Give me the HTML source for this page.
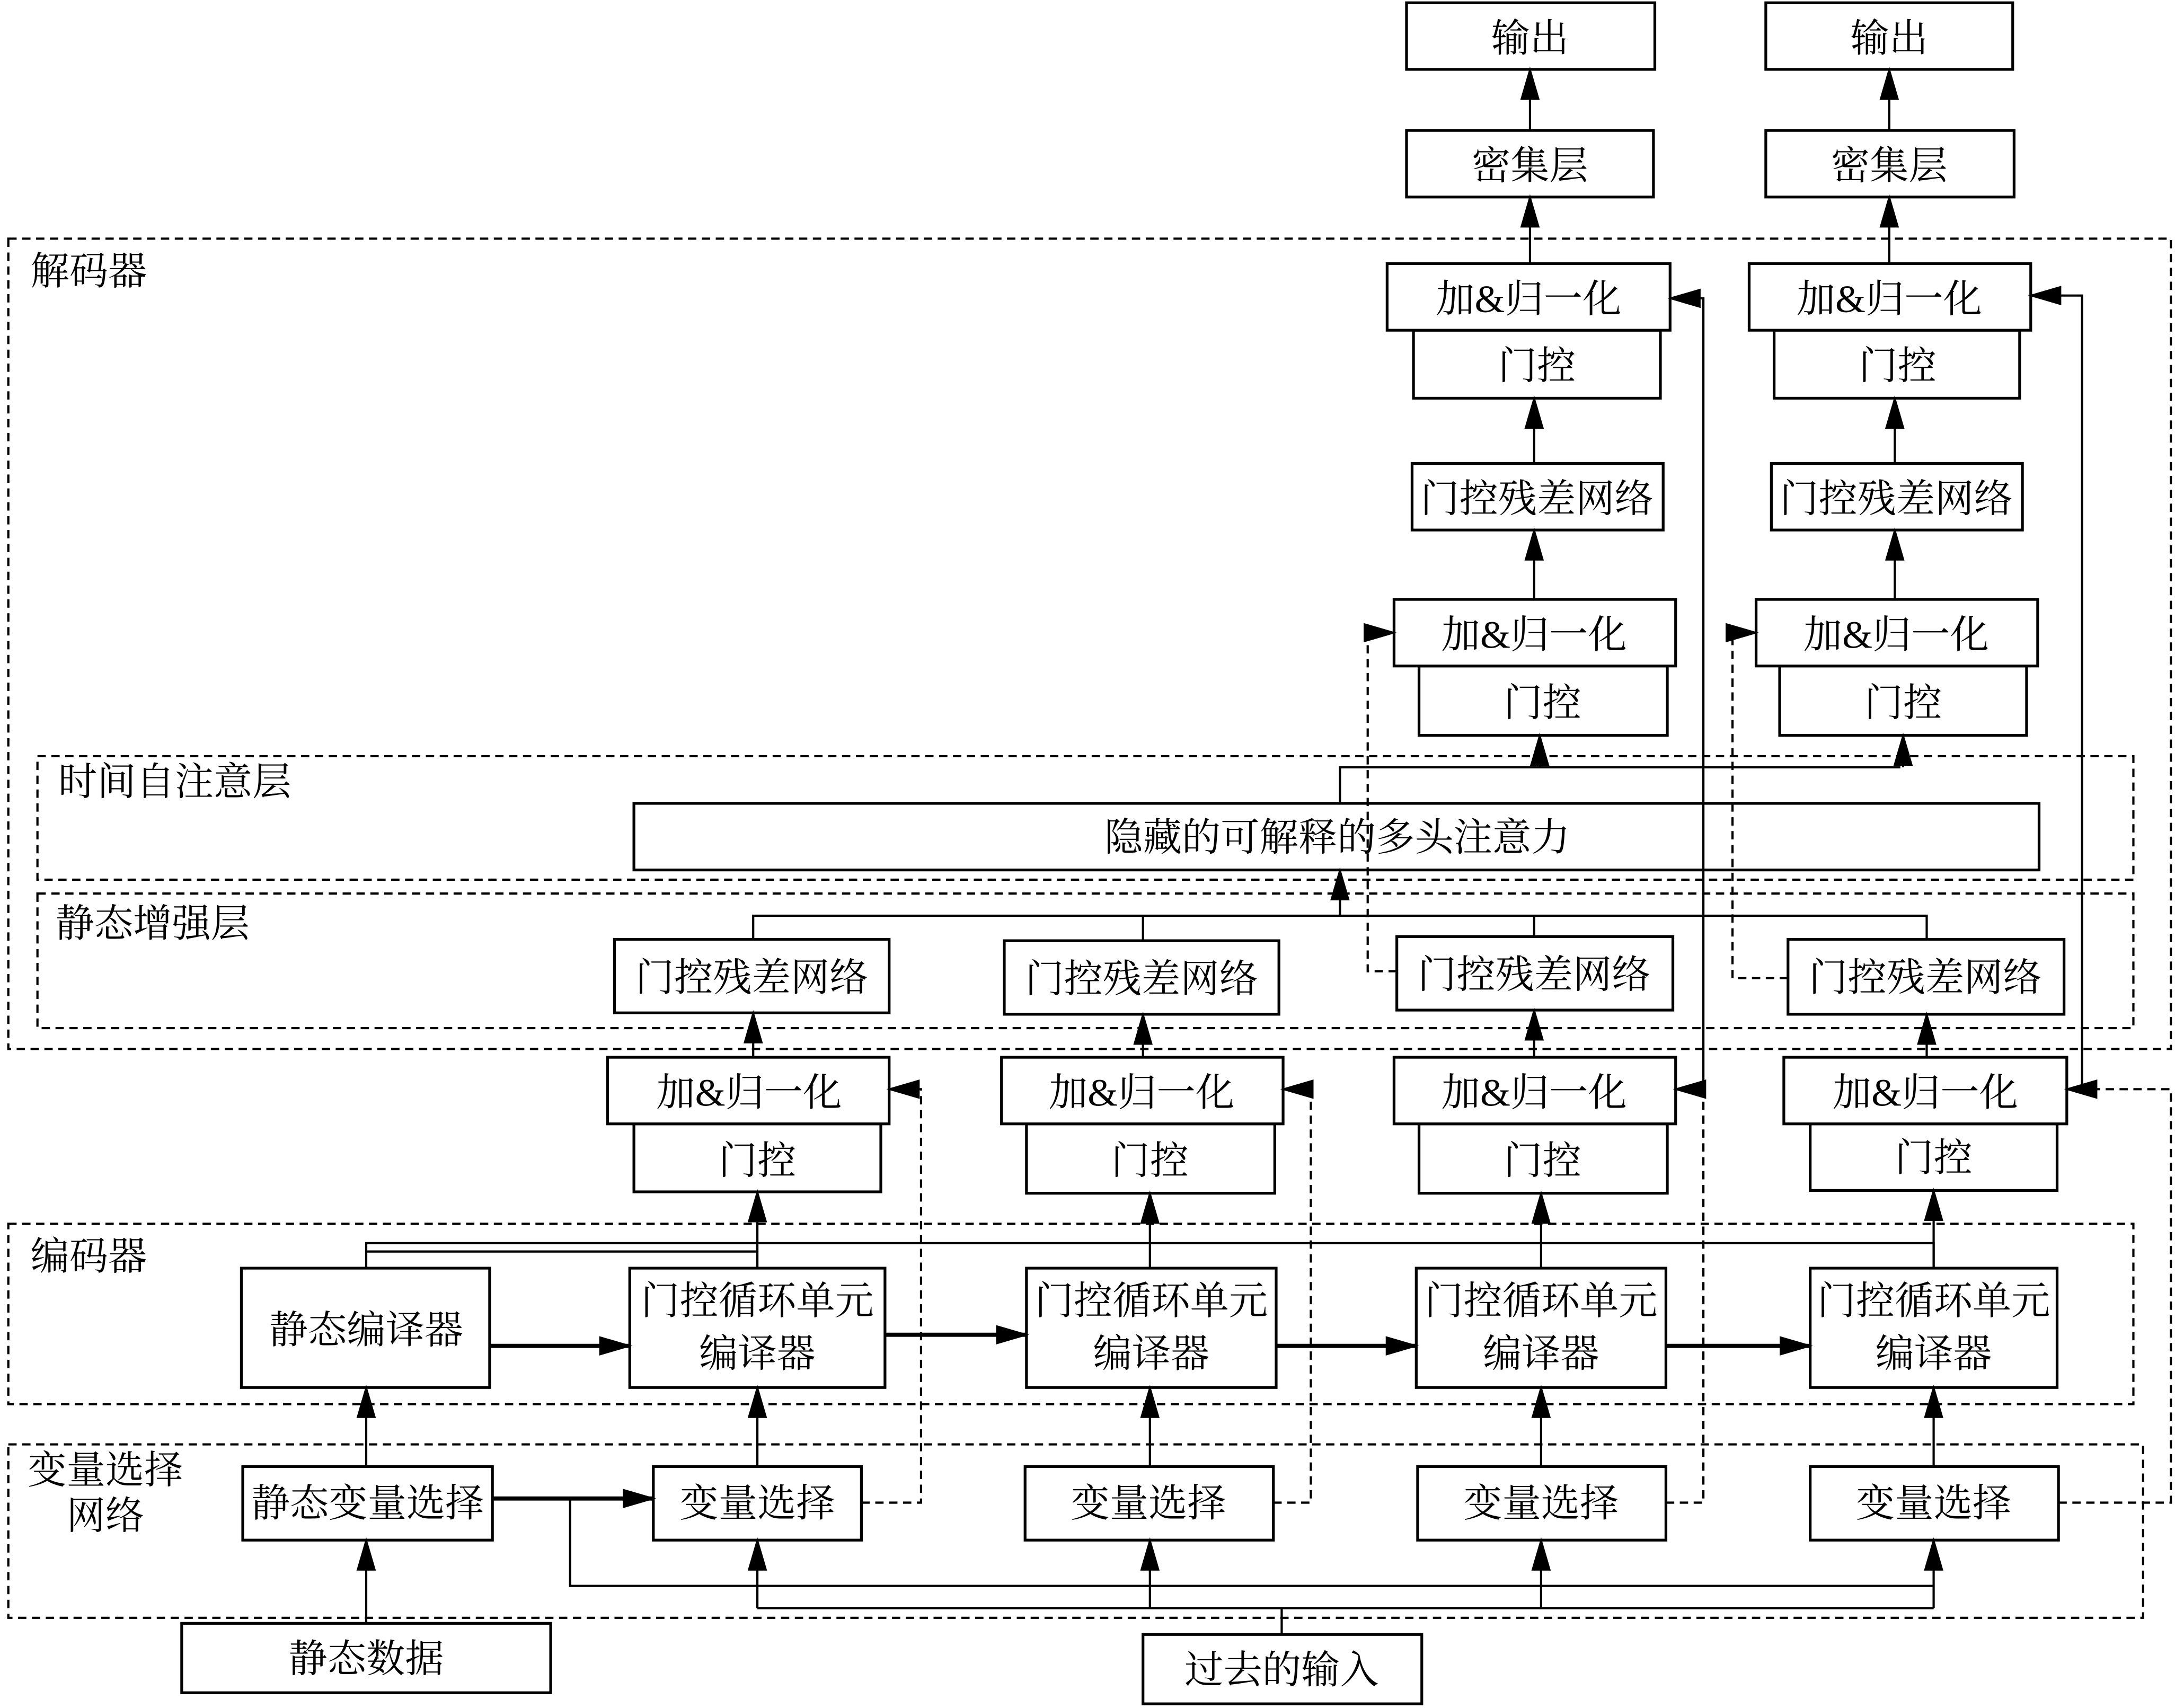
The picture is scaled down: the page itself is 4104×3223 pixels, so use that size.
<!DOCTYPE html>
<html><head><meta charset="utf-8"><style>
html,body{margin:0;padding:0;background:#fff}
svg{display:block}
text{font-family:"Liberation Serif","Noto Serif CJK SC",serif;font-size:28px;fill:#000}
</style></head><body>
<svg width="4104" height="3223" viewBox="0 0 1568 1231" preserveAspectRatio="none" xmlns="http://www.w3.org/2000/svg">
<defs>
<marker id="a" markerUnits="userSpaceOnUse" markerWidth="24" markerHeight="14" refX="22" refY="7" orient="auto"><path d="M0,0 L24,7 L0,14 z" fill="#000"/></marker>
</defs>
<g fill="none" stroke="#000" stroke-width="1.6" stroke-dasharray="6,4">
<rect x="6" y="172" width="1559" height="584"/>
<rect x="27" y="545" width="1511" height="89"/>
<rect x="27" y="644" width="1511" height="97"/>
<rect x="6" y="882" width="1532" height="130"/>
<rect x="6" y="1041" width="1539" height="125"/>
</g>
<g fill="#fff" stroke="#000" stroke-width="2">
<rect x="1014" y="2" width="179" height="48"/><rect x="1273" y="2" width="178" height="48"/>
<rect x="1014" y="94" width="178" height="48"/><rect x="1273" y="94" width="179" height="48"/>
<rect x="1019" y="238" width="178" height="49"/><rect x="1000" y="190" width="204" height="48"/>
<rect x="1279" y="238" width="177" height="49"/><rect x="1261" y="190" width="203" height="48"/>
<rect x="1018" y="334" width="181" height="48"/><rect x="1277" y="334" width="181" height="48"/>
<rect x="1023" y="480" width="179" height="50"/><rect x="1005" y="432" width="203" height="48"/>
<rect x="1283" y="480" width="178" height="50"/><rect x="1266" y="432" width="203" height="48"/>
<rect x="457" y="579" width="1013" height="48"/>
<rect x="443" y="677" width="198" height="53"/><rect x="724" y="678" width="198" height="53"/>
<rect x="1007" y="675" width="199" height="53"/><rect x="1289" y="677" width="199" height="54"/>
<rect x="457" y="810" width="178" height="49"/><rect x="438" y="762" width="203" height="48"/>
<rect x="740" y="810" width="179" height="50"/><rect x="722" y="762" width="203" height="48"/>
<rect x="1023" y="810" width="179" height="50"/><rect x="1005" y="762" width="203" height="48"/>
<rect x="1305" y="810" width="178" height="48"/><rect x="1286" y="762" width="204" height="48"/>
<rect x="174" y="914" width="179" height="86"/>
<rect x="454" y="914" width="184" height="86"/><rect x="740" y="914" width="180" height="86"/>
<rect x="1021" y="914" width="180" height="86"/><rect x="1305" y="914" width="178" height="86"/>
<rect x="175" y="1057" width="180" height="53"/>
<rect x="471" y="1057" width="150" height="53"/><rect x="739" y="1057" width="179" height="53"/>
<rect x="1022" y="1057" width="179" height="53"/><rect x="1305" y="1057" width="179" height="53"/>
<rect x="131" y="1170" width="266" height="50"/><rect x="824" y="1178" width="201" height="50"/>
</g>
<g fill="none" stroke="#000" stroke-width="1.6">
<path d="M966 579V553H1370M543 677V660H1389V677M824 660V678M1106 660V675M264 914V896H1394V914M264 902H546M411 1080V1143H1394M546 1159H1394M924 1178V1159"/>
</g>
<g fill="none" stroke="#000" stroke-width="1.6" marker-end="url(#a)">
<path d="M1103 94V50"/><path d="M1362 94V50"/><path d="M1103 190V142"/><path d="M1362 190V142"/>
<path d="M1106 334V287"/><path d="M1366 334V287"/><path d="M1106 432V382"/><path d="M1366 432V382"/>
<path d="M1110 553V530"/><path d="M1372 553V530"/>
<path d="M966 660V627"/>
<path d="M543 762V730"/><path d="M824 762V731"/><path d="M1106 762V728"/><path d="M1389 762V731"/>
<path d="M1228 785V215H1204"/><path d="M1501 785V213H1464"/>
<path d="M546 914V859"/><path d="M829 914V860"/><path d="M1111 914V860"/><path d="M1394 914V858"/>
<path d="M353 970H454" stroke-width="3"/><path d="M638 962H740" stroke-width="3"/><path d="M920 970H1021" stroke-width="3"/><path d="M1201 970H1305" stroke-width="3"/>
<path d="M264 1057V1000"/><path d="M546 1057V1000"/><path d="M829 1057V1000"/><path d="M1111 1057V1000"/><path d="M1394 1057V1000"/>
<path d="M355 1080H471" stroke-width="3"/>
<path d="M546 1159V1110"/><path d="M829 1159V1110"/><path d="M1111 1159V1110"/><path d="M1394 1159V1110"/>
<path d="M264 1170V1110"/>
</g>
<g fill="none" stroke="#000" stroke-width="1.6" stroke-dasharray="6,4" marker-end="url(#a)">
<path d="M1007 700H986V456H1005"/>
<path d="M1289 705H1249V456H1266"/>
<path d="M621 1083H664V785H641"/>
<path d="M918 1083H945V785H925"/>
<path d="M1201 1083H1228V785H1208"/>
<path d="M1484 1083H1565V785H1490"/>
</g>
<g text-anchor="middle">
<text x="1103" y="37">输出</text><text x="1362" y="37">输出</text>
<text x="1103" y="129">密集层</text><text x="1362" y="129">密集层</text>
<text x="1102" y="225">加&amp;归一化</text><text x="1362" y="225">加&amp;归一化</text>
<text x="1108" y="273">门控</text><text x="1368" y="273">门控</text>
<text x="1108" y="369">门控残差网络</text><text x="1367" y="369">门控残差网络</text>
<text x="1106" y="467">加&amp;归一化</text><text x="1367" y="467">加&amp;归一化</text>
<text x="1112" y="516">门控</text><text x="1372" y="516">门控</text>
<text x="964" y="613">隐藏的可解释的多头注意力</text>
<text x="542" y="714">门控残差网络</text><text x="823" y="715">门控残差网络</text>
<text x="1106" y="712">门控残差网络</text><text x="1388" y="714">门控残差网络</text>
<text x="540" y="797">加&amp;归一化</text><text x="823" y="797">加&amp;归一化</text>
<text x="1106" y="797">加&amp;归一化</text><text x="1388" y="797">加&amp;归一化</text>
<text x="546" y="846">门控</text><text x="829" y="846">门控</text>
<text x="1112" y="846">门控</text><text x="1394" y="844">门控</text>
<text x="264" y="968">静态编译器</text>
<text x="546" y="947">门控循环单元</text><text x="546" y="985">编译器</text>
<text x="830" y="947">门控循环单元</text><text x="830" y="985">编译器</text>
<text x="1111" y="947">门控循环单元</text><text x="1111" y="985">编译器</text>
<text x="1394" y="947">门控循环单元</text><text x="1394" y="985">编译器</text>
<text x="265" y="1093">静态变量选择</text>
<text x="546" y="1093">变量选择</text><text x="828" y="1093">变量选择</text>
<text x="1111" y="1093">变量选择</text><text x="1394" y="1093">变量选择</text>
<text x="264" y="1205">静态数据</text><text x="924" y="1213">过去的输入</text>
<text x="76" y="1069">变量选择</text><text x="76" y="1102">网络</text>
</g>
<text x="22" y="205">解码器</text>
<text x="42" y="573">时间自注意层</text>
<text x="40" y="675">静态增强层</text>
<text x="22" y="915">编码器</text>
</svg>
</body></html>
